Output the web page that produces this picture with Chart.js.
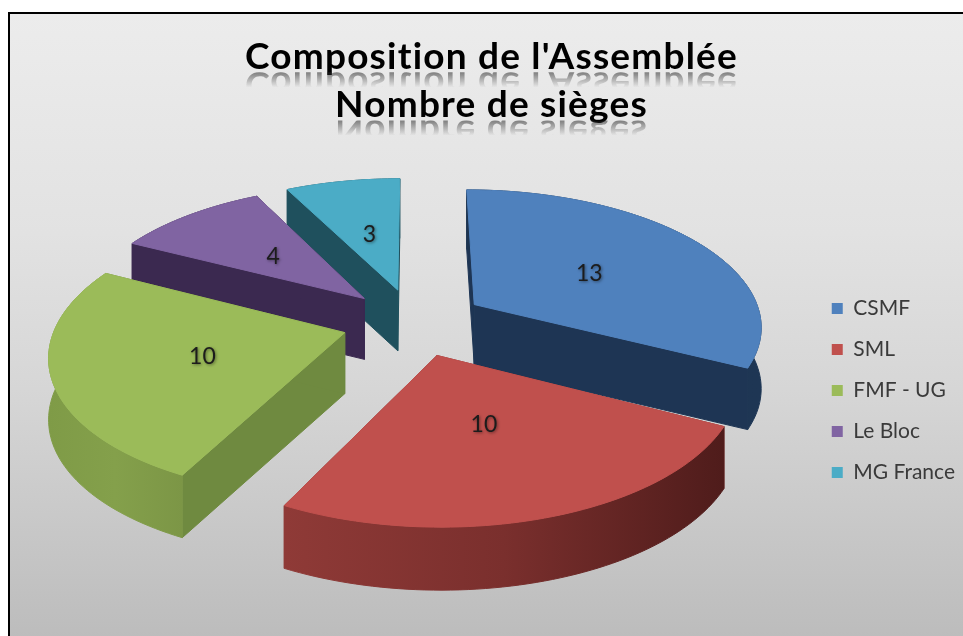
<!DOCTYPE html>
<html lang="fr">
<head>
<meta charset="utf-8">
<title>Composition de l'Assemblée</title>
<script src="https://cdn.jsdelivr.net/npm/chart.js@4/dist/chart.umd.min.js"></script>
<style>
  html, body { margin: 0; padding: 0; background: #fff; overflow: hidden; }
  .frame {
    position: absolute; left: 8px; top: 12px; width: 960px; height: 630px;
    border: 2px solid #000; box-sizing: border-box;
    background: linear-gradient(#ececec 0%, #e2e2e2 35%, #d6d6d6 60%, #bcbcbc 100%);
  }
  canvas { position: absolute; left: 0; top: 0; }
</style>
</head>
<body>
<div class="frame"></div>
<canvas id="chart" width="963" height="636"></canvas>
<script>
// Data
const titleLines = ['Composition de l\'Assemblée', 'Nombre de sièges'];
const categories = ['CSMF', 'SML', 'FMF - UG', 'Le Bloc', 'MG France'];
const seats = [13, 10, 10, 4, 3];

// Colours per slice
const topColors = ['#4f81bd', '#c0504d', '#9bbb59', '#8064a2', '#4bacc6'];
const edgeColors = ['#1e3554', '#8a3633', '#6f8a40', '#3b2950', '#1f505d'];
const rimColors = [
  ['#1d3450', '#1e3654'],
  ['#8f3a37', '#7a2f2d', '#4f1c1b'],
  ['#7f9b47', '#84a04b', '#7c9646'],
  ['#3b2950', '#3b2950'],
  ['#1f505d', '#1f505d']
];

// Tilted view of the pie: disc coordinates to screen pixels
const view = { x: 414, y: 322, a: 288, b: 136, k: 0.145, depth: 61 };
const paintOrder = [4, 3, 0, 2, 1];
const labelRadius = [0.5, 0.45, 0.5, 0.5, 0.5];

function project(u, v) {
  const s = 1 / (1 - view.k * v);
  return { x: view.x + view.a * u * s, y: view.y + view.b * v * s, s: s };
}

function drop(p) {
  return { x: p.x, y: p.y + view.depth * (0.85 + 0.15 * p.s) };
}

// Point of a slice, after the slice has been pulled out by its offset
function slicePoint(arc, angle, r) {
  const mid = (arc.startAngle + arc.endAngle) / 2;
  const e = arc.options.offset / arc.outerRadius;
  return project(e * Math.cos(mid) + r * Math.cos(angle), e * Math.sin(mid) + r * Math.sin(angle));
}

function fillPoly(ctx, pts, fill) {
  ctx.beginPath();
  pts.forEach((p, i) => i ? ctx.lineTo(p.x, p.y) : ctx.moveTo(p.x, p.y));
  ctx.closePath();
  ctx.fillStyle = fill;
  ctx.fill();
  ctx.strokeStyle = fill;
  ctx.lineWidth = 1;
  ctx.stroke();
}

function drawSlice(ctx, arc, i) {
  const rim = [];
  const steps = Math.ceil((arc.endAngle - arc.startAngle) * 40);
  for (let n = 0; n <= steps; n++) {
    rim.push(slicePoint(arc, arc.startAngle + (arc.endAngle - arc.startAngle) * n / steps, 1));
  }
  const apex = slicePoint(arc, 0, 0);

  // Side walls first, then the outer wall, then the top face
  [rim[0], rim[rim.length - 1]].forEach(p => {
    fillPoly(ctx, [apex, p, drop(p), drop(apex)], edgeColors[i]);
  });

  const xs = rim.map(p => p.x);
  const grad = ctx.createLinearGradient(Math.min(...xs), 0, Math.max(...xs), 0);
  rimColors[i].forEach((c, n) => grad.addColorStop(n / (rimColors[i].length - 1), c));
  fillPoly(ctx, rim.concat(rim.map(drop).reverse()), grad);

  fillPoly(ctx, [apex].concat(rim), topColors[i]);
}

const pie3d = {
  id: 'pie3d',
  beforeDatasetDraw(chart, args) {
    const arcs = chart.getDatasetMeta(args.index).data;
    paintOrder.forEach(i => drawSlice(chart.ctx, arcs[i], i));
    return false;
  },
  afterDatasetsDraw(chart) {
    const ctx = chart.ctx;
    const arcs = chart.getDatasetMeta(0).data;
    ctx.save();
    ctx.font = '23px Lato';
    ctx.textAlign = 'center';
    ctx.textBaseline = 'middle';
    ctx.fillStyle = '#1c1c1c';
    ctx.shadowColor = 'rgba(0,0,0,0.45)';
    ctx.shadowBlur = 3;
    ctx.shadowOffsetX = 1;
    ctx.shadowOffsetY = 1;
    arcs.forEach((arc, i) => {
      const p = slicePoint(arc, (arc.startAngle + arc.endAngle) / 2, labelRadius[i]);
      ctx.fillText(String(seats[i]), p.x + 1, p.y + 2);
    });
    ctx.restore();
  }
};

// Mirror image of the title lines, fading out under each baseline
const titleReflection = {
  id: 'titleReflection',
  beforeDraw(chart) {
    // title only: no "ti" ligature, and wider like the original face
    const block = chart.titleBlock;
    if (!block.spaced) {
      const draw = block.draw;
      block.draw = function () {
        chart.ctx.letterSpacing = '1.2px';
        draw.call(block);
        chart.ctx.letterSpacing = '0px';
      };
      block.spaced = true;
    }
  },
  afterDraw(chart) {
    const ctx = chart.ctx;
    const opts = chart.options.plugins.title;
    const block = chart.titleBlock;
    const size = opts.font.size;
    const lineH = size * opts.font.lineHeight;
    const cx = (block.left + block.right) / 2;
    titleLines.forEach((line, i) => {
      const base = block.top + opts.padding.top + lineH * (i + 0.5) + size * 0.36;
      ctx.save();
      ctx.translate(0, base * 2 + 2);
      ctx.scale(1, -1);
      const grad = ctx.createLinearGradient(0, base, 0, base - 15);
      grad.addColorStop(0, 'rgba(40,40,40,0.55)');
      grad.addColorStop(1, 'rgba(40,40,40,0)');
      ctx.font = 'bold ' + size + 'px Lato';
      ctx.letterSpacing = '1.2px';
      ctx.textAlign = 'center';
      ctx.textBaseline = 'alphabetic';
      ctx.fillStyle = grad;
      ctx.beginPath();
      ctx.rect(0, base - 15, chart.width, 15);
      ctx.clip();
      ctx.fillText(line, cx, base);
      ctx.restore();
    });
  }
};

new Chart(document.getElementById('chart'), {
  type: 'pie',
  data: {
    labels: categories,
    datasets: [{
      data: seats,
      backgroundColor: topColors,
      borderWidth: 0,
      offset: 25
    }]
  },
  options: {
    responsive: false,
    animation: false,
    radius: 100,
    layout: { padding: { left: 18, right: -2, top: 33, bottom: 0 } },
    plugins: {
      tooltip: { enabled: false },
      title: {
        display: true,
        text: titleLines,
        color: '#000',
        font: { family: 'Lato', size: 37, weight: 'bold', lineHeight: 1.3 },
        padding: { top: 0, bottom: 16 }
      },
      legend: {
        position: 'right',
        fullSize: false,
        labels: {
          color: '#3a3a3a',
          font: { family: 'Lato', size: 21 },
          boxWidth: 11,
          boxHeight: 11,
          padding: 20
        }
      }
    }
  },
  plugins: [pie3d, titleReflection]
});
</script>
</body>
</html>
